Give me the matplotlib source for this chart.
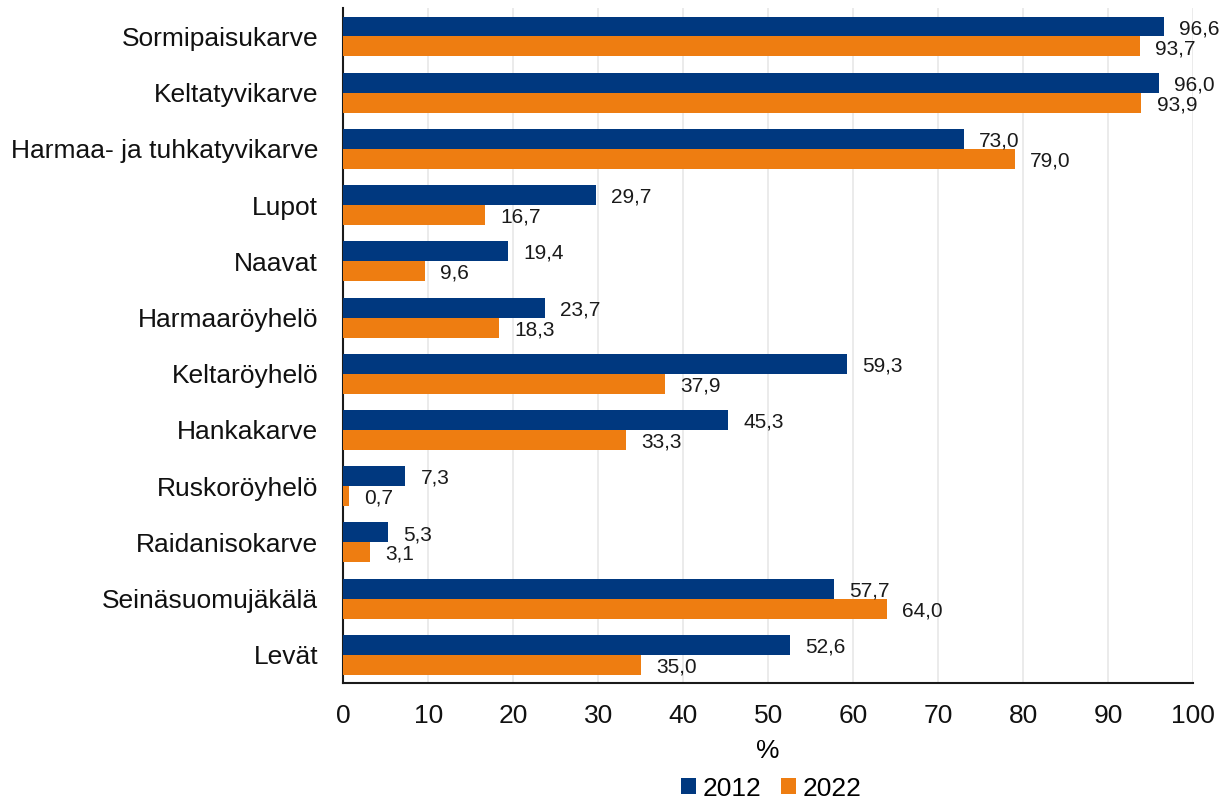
import matplotlib
matplotlib.use("Agg")
import matplotlib.pyplot as plt
import numpy as np

plt.rcParams['font.family'] = ['Liberation Sans', 'DejaVu Sans']

categories = [
    "Sormipaisukarve", "Keltatyvikarve", "Harmaa- ja tuhkatyvikarve", "Lupot",
    "Naavat", "Harmaaröyhelö", "Keltaröyhelö", "Hankakarve", "Ruskoröyhelö",
    "Raidanisokarve", "Seinäsuomujäkälä", "Levät",
]
values_2012 = [96.6, 96.0, 73.0, 29.7, 19.4, 23.7, 59.3, 45.3, 7.3, 5.3, 57.7, 52.6]
values_2022 = [93.7, 93.9, 79.0, 16.7, 9.6, 18.3, 37.9, 33.3, 0.7, 3.1, 64.0, 35.0]
series_labels = ["2012", "2022"]
x_ticks = [0, 10, 20, 30, 40, 50, 60, 70, 80, 90, 100]

navy = "#00387F"
orange = "#EE7D11"

fig = plt.figure(figsize=(12.3, 8.05), dpi=100)
ax = fig.add_axes([0.279, 0.1516, 0.691, 0.838])

y = np.arange(len(categories))
h = 0.355
b1 = ax.barh(y - h / 2, values_2012, height=h, color=navy, label=series_labels[0], zorder=3)
b2 = ax.barh(y + h / 2, values_2022, height=h, color=orange, label=series_labels[1], zorder=3)

def fmt(v):
    return f"{v:.1f}".replace(".", ",")

for bars, vals in ((b1, values_2012), (b2, values_2022)):
    for rect, v in zip(bars, vals):
        ax.annotate(fmt(v), (v, rect.get_y() + rect.get_height() / 2),
                    xytext=(11, -1.5), textcoords="offset points",
                    ha="left", va="center", fontsize=15, color="#1a1a1a")

ax.set_xlim(0, 100)
ax.set_ylim(len(categories) - 0.5, -0.5)
ax.set_yticks(y)
ax.set_yticklabels(categories, fontsize=19)
ax.set_xticks(x_ticks)
ax.set_xticklabels([str(t) for t in x_ticks], fontsize=19)
ax.tick_params(axis="both", length=0, colors="#111111")
ax.tick_params(axis="y", pad=18)
ax.tick_params(axis="x", pad=15)
ax.xaxis.grid(True, color="#E8E8E8", linewidth=1.2, zorder=0)
ax.set_axisbelow(True)
for s in ("top", "right"):
    ax.spines[s].set_visible(False)
for s in ("left", "bottom"):
    ax.spines[s].set_color("#1a1a1a")
    ax.spines[s].set_linewidth(1.5)

ax.set_xlabel("%", fontsize=19, labelpad=8)

fig.legend(loc="lower center", bbox_to_anchor=(0.627, -0.024), ncol=2, frameon=False,
           fontsize=19, handlelength=0.55, handleheight=0.55, handletextpad=0.25,
           columnspacing=0.75)

fig.savefig("out.png", dpi=100)
